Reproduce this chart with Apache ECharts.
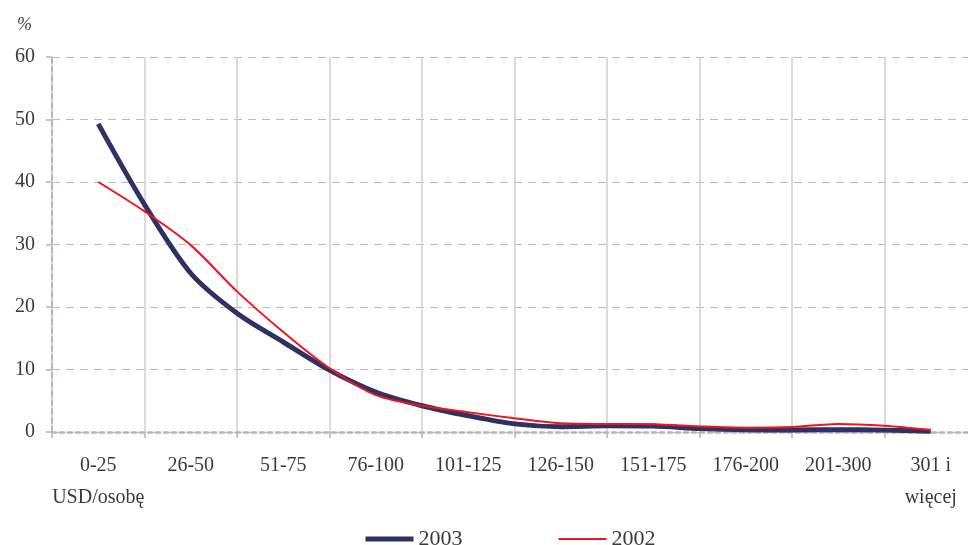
<!DOCTYPE html>
<html>
<head>
<meta charset="utf-8">
<script src="https://cdn.jsdelivr.net/npm/echarts@6/dist/echarts.min.js"></script>
<style>
html,body{margin:0;padding:0;background:#fff;overflow:hidden;width:968px;height:545px;}
#c{width:977px;height:545px;}
</style>
</head>
<body>
<div id="c"></div>
<script>
// Category labels (x axis)
var categories = ["0-25\nUSD/osobę", "26-50", "51-75", "76-100", "101-125", "126-150", "151-175", "176-200", "201-300", "301 i\nwięcej"];
// Y axis ticks
var yTicks = [0, 10, 20, 30, 40, 50, 60];
// Sample positions along the category axis (category units, 0.5 = centre of first category)
var samplePos = [0.5, 1.0, 1.5, 2.0, 2.5, 3.0, 3.5, 4.0, 4.5, 5.0, 5.5, 6.0, 6.5, 7.0, 7.5, 8.0, 8.5, 9.0, 9.5];
// Series values (%)
var values2003 = [49.3, 36.4, 25.4, 19.0, 14.4, 9.9, 6.4, 4.2, 2.6, 1.3, 0.85, 1.0, 0.95, 0.55, 0.35, 0.32, 0.37, 0.3, 0.12];
var values2002 = [40.0, 35.3, 29.9, 22.5, 16.0, 10.2, 5.9, 4.2, 3.15, 2.2, 1.4, 1.28, 1.23, 0.9, 0.7, 0.8, 1.3, 1.0, 0.3];
var seriesNames = ["2003", "2002"];

function pairs(xs, ys) {
  var out = [];
  for (var i = 0; i < xs.length; i++) out.push([xs[i], ys[i]]);
  return out;
}

var FONT = "Liberation Serif";
var chart = echarts.init(document.getElementById('c'), null, {renderer: 'canvas'});
chart.setOption({
  animation: false,
  backgroundColor: '#ffffff',
  grid: {left: 52, top: 57, bottom: 113, right: 0, containLabel: false},
  graphic: [{
    type: 'text', left: 17, top: 16,
    style: {text: '%', font: 'italic 18px "' + FONT + '"', fill: '#444'}
  }],
  xAxis: [{
    type: 'category',
    data: categories,
    boundaryGap: true,
    axisLine: {show: true, lineStyle: {color: '#BDB3B0', width: 2.5, type: [4, 4]}},
    axisTick: {show: true, length: 6, lineStyle: {color: '#BDB3B0', width: 1.5}},
    axisLabel: {fontFamily: FONT, fontSize: 20, color: '#3a3a3a', margin: 18, lineHeight: 32, interval: 0},
    splitLine: {show: true, lineStyle: {color: '#D5CDCC', width: 1.5, type: 'solid'}}
  }, {
    type: 'value', min: 0, max: 10, show: false,
    splitLine: {show: false}
  }],
  yAxis: {
    type: 'value', min: yTicks[0], max: yTicks[yTicks.length - 1], interval: 10,
    axisLine: {show: true, lineStyle: {color: '#BDB3B0', width: 2, type: [5, 4]}},
    axisTick: {show: true, length: 6, lineStyle: {color: '#BDB3B0', width: 1.5}},
    axisLabel: {fontFamily: FONT, fontSize: 20, color: '#3a3a3a', margin: 17},
    splitLine: {show: true, lineStyle: {color: '#C4BBB8', width: 1.2, type: [8, 6]}}
  },
  legend: {
    show: true, left: 358, top: 523,
    itemWidth: 48, itemHeight: 14, itemGap: 95,
    textStyle: {fontFamily: FONT, fontSize: 22, color: '#3a3a3a'},
    lineStyle: {width: 'inherit'},
    itemStyle: {opacity: 0, borderWidth: 0},
    data: seriesNames
  },
  series: [{
    name: seriesNames[0], type: 'line', xAxisIndex: 1,
    data: pairs(samplePos, values2003),
    smooth: 0.3, symbol: 'none',
    lineStyle: {color: '#2F3163', width: 5},
    itemStyle: {color: '#2F3163'},
    z: 3
  }, {
    name: seriesNames[1], type: 'line', xAxisIndex: 1,
    data: pairs(samplePos, values2002),
    smooth: 0.3, symbol: 'none',
    lineStyle: {color: '#F0141E', width: 2},
    itemStyle: {color: '#F0141E'},
    z: 4
  }]
});
</script>
</body>
</html>
